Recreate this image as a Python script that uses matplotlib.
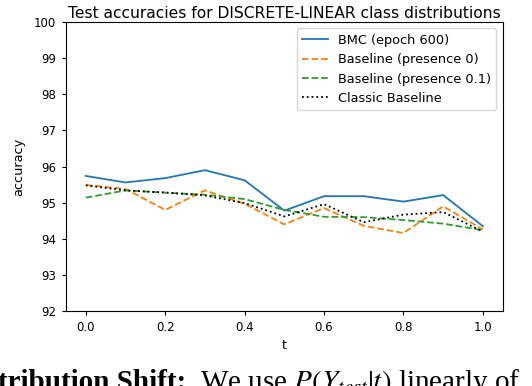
import matplotlib
matplotlib.use('Agg')
import matplotlib.pyplot as plt
import numpy as np

# values
t = [0.0, 0.1, 0.2, 0.3, 0.4, 0.5, 0.6, 0.7, 0.8, 0.9, 1.0]
bmc = [95.74, 95.56, 95.68, 95.9, 95.62, 94.78, 95.18, 95.18, 95.03, 95.21, 94.35]
base_p0 = [95.49, 95.38, 94.8, 95.34, 94.97, 94.4, 94.85, 94.36, 94.16, 94.9, 94.26]
base_p01 = [95.14, 95.34, 95.28, 95.22, 95.1, 94.8, 94.61, 94.6, 94.52, 94.42, 94.24]
classic = [95.48, 95.34, 95.28, 95.2, 94.99, 94.62, 94.96, 94.46, 94.67, 94.74, 94.2]

plt.rcParams['mathtext.fontset'] = 'stix'

fig = plt.figure(figsize=(5.32, 3.86), dpi=100)
ax = fig.add_axes([0.124, 0.194, 0.821, 0.749])

ax.plot(t, bmc, color='#1f77b4', lw=1.3, label='BMC (epoch 600)')
ax.plot(t, base_p0, color='#ff7f0e', lw=1.3, ls='--', label='Baseline (presence 0)')
ax.plot(t, base_p01, color='#2ca02c', lw=1.3, ls='--', label='Baseline (presence 0.1)')
ax.plot(t, classic, color='black', lw=1.3, ls=':', label='Classic Baseline')

ax.set_ylim(92, 100)
ax.set_xticks([0.0, 0.2, 0.4, 0.6, 0.8, 1.0])
ax.tick_params(labelsize=8.5, length=3, pad=4)
ax.set_xlabel('t', fontsize=9, labelpad=4)
ax.set_ylabel('accuracy', fontsize=9.3, labelpad=6)
ax.set_title('Test accuracies for DISCRETE-LINEAR class distributions', fontsize=11.2, pad=3)
ax.legend(loc='upper right', fontsize=9.3)

# fragment of the paper text below the figure (cut off by the image edge, as in the source)
fig.text(-0.004, -0.01, 'tribution Shift:', fontsize=21, fontweight='bold',
         family='Liberation Serif', va='baseline')
fig.text(0.375, -0.01, r'We use $P(Y_{test}|t)$ linearly of', fontsize=21,
         family='Liberation Serif', va='baseline')

fig.savefig('out.png', dpi=100)
